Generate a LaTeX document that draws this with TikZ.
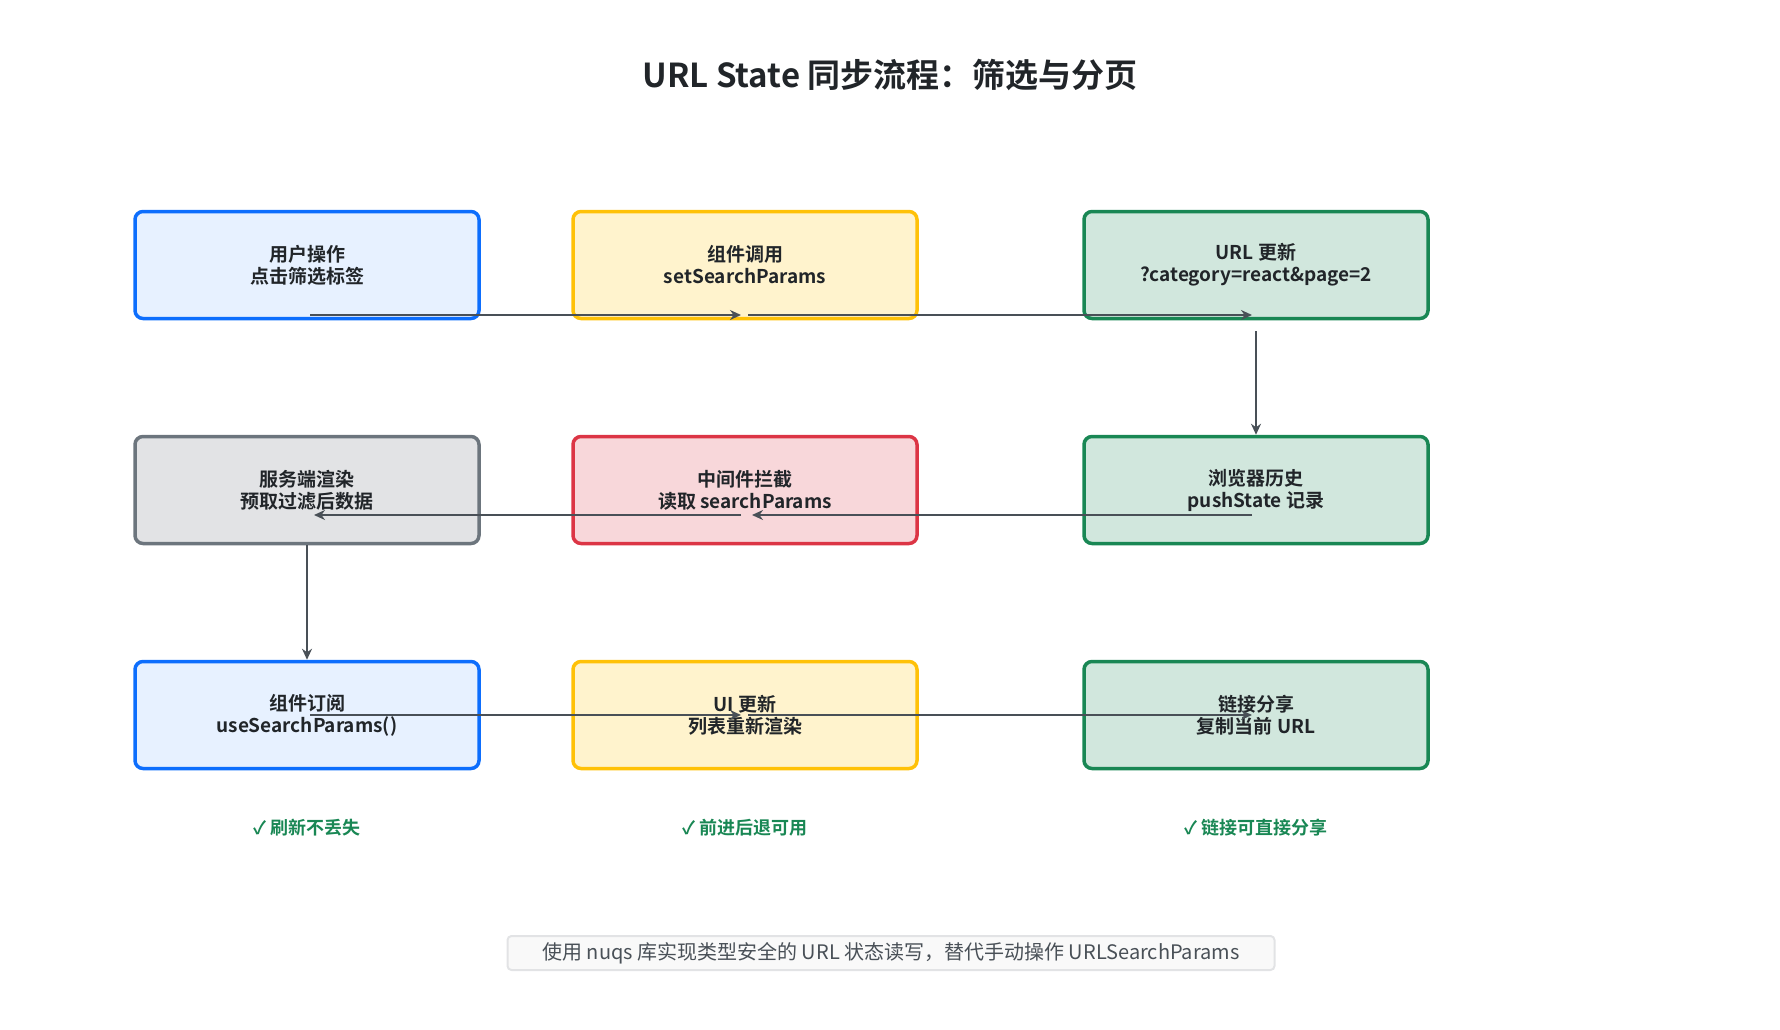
\documentclass[tikz,border=0pt]{standalone}
\usepackage{fontspec}
\setmainfont{Noto Sans CJK SC}[BoldFont={Noto Sans CJK SC Bold}]
\usetikzlibrary{arrows.meta}
\definecolor{bluedk}{HTML}{0D6EFD}\definecolor{bluelt}{HTML}{E7F1FF}
\definecolor{yeldk}{HTML}{FFC107}\definecolor{yellt}{HTML}{FFF3CD}
\definecolor{grndk}{HTML}{198754}\definecolor{grnlt}{HTML}{D1E7DD}
\definecolor{gredk}{HTML}{6C757D}\definecolor{grelt}{HTML}{E2E3E5}
\definecolor{reddk}{HTML}{DC3545}\definecolor{redlt}{HTML}{F8D7DA}
\definecolor{ink}{HTML}{212529}\definecolor{arr}{HTML}{495057}
\tikzset{
  step/.style={draw=#1dk, fill=#1lt, line width=3.5pt, rounded corners=8pt,
    minimum width=344pt, minimum height=107pt, align=center, text=ink,
    font=\fontsize{19}{22}\selectfont\bfseries},
  flow/.style={draw=arr, line width=2.5pt, -{Stealth[length=11pt,width=10pt]}},
  check/.style={text=grndk, font=\fontsize{18}{22}\selectfont\bfseries}
}
\begin{document}
\begin{tikzpicture}[x=1pt,y=-1pt]
	\useasboundingbox (0,0) rectangle (1780,1030);
	\node[font=\fontsize{33}{38}\selectfont\bfseries, text=ink] (title) at (890,75) {URL State 同步流程：筛选与分页};
	\node[step=blue] (A1) at (307,265) {用户操作\\点击筛选标签};
	\node[step=yel] (A2) at (745,265) {组件调用\\setSearchParams};
	\node[step=grn] (A3) at (1256,265) {URL 更新\\?category=react\&page=2};
	\node[step=gre] (B1) at (307,490) {服务端渲染\\预取过滤后数据};
	\node[step=red] (B2) at (745,490) {中间件拦截\\读取 searchParams};
	\node[step=grn] (B3) at (1256,490) {浏览器历史\\pushState 记录};
	\node[step=blue] (C1) at (307,715) {组件订阅\\useSearchParams()};
	\node[step=yel] (C2) at (745,715) {UI 更新\\列表重新渲染};
	\node[step=grn] (C3) at (1256,715) {链接分享\\复制当前 URL};
	\draw[flow] ([xshift=3pt,yshift=-50pt]A1.center) -- ([xshift=-4pt,yshift=-50pt]A2.center);
	\draw[flow] ([xshift=3pt,yshift=-50pt]A2.center) -- ([xshift=-4pt,yshift=-50pt]A3.center);
	\draw[flow] ([yshift=-66pt]A3.center) -- (B3.north);
	\draw[flow] ([xshift=-4pt,yshift=-25pt]B3.center) -- ([xshift=7pt,yshift=-25pt]B2.center);
	\draw[flow] ([xshift=-4pt,yshift=-25pt]B2.center) -- ([xshift=7pt,yshift=-25pt]B1.center);
	\draw[flow] (B1.south) -- (C1.north);
	\draw[flow] ([xshift=3pt]C1.center) -- ([xshift=-4pt]C2.center);
	\draw[flow] ([xshift=3pt]C2.center) -- ([xshift=-4pt]C3.center);
	\node[check] (K1) at (307,828) {✓ 刷新不丢失};
	\node[check] (K2) at (745,828) {✓ 前进后退可用};
	\node[check] (K3) at (1256,828) {✓ 链接可直接分享};
	\node[draw=grelt, line width=2pt, fill=gray!5, rounded corners=4pt, text=arr,
	  minimum width=767pt, minimum height=34pt, font=\fontsize{20}{24}\selectfont]
	  (note) at (891,953) {使用 nuqs 库实现类型安全的 URL 状态读写，替代手动操作 URLSearchParams};
\end{tikzpicture}
\end{document}
